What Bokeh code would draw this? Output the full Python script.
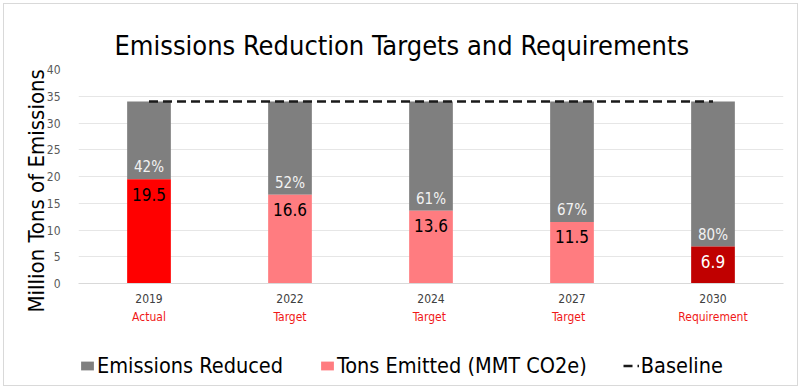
from bokeh.plotting import figure
from bokeh.models import (ColumnDataSource, CategoricalAxis, Legend, LegendItem,
                          FixedTicker, FactorRange, Title)
from bokeh.layouts import column
from bokeh.core.properties import value
from bokeh.embed import file_html
from bokeh.resources import INLINE

years = ["2019", "2022", "2024", "2027", "2030"]
sublabels = ["Actual", "Target", "Target ", "Target  ", "Requirement"]
emitted = [19.5, 16.6, 13.6, 11.5, 6.9]
baseline = [34.0, 34.0, 34.0, 34.0, 34.0]
reduced_pct = ["42%", "52%", "61%", "67%", "80%"]
emitted_colors = ["#FF0000", "#FF7C80", "#FF7C80", "#FF7C80", "#C00000"]
emitted_text_colors = ["#000000", "#000000", "#000000", "#000000", "#FFFFFF"]
emitted_labels = ["19.5", "16.6", "13.6", "11.5", "6.9"]

FONT = "DejaVu Sans Condensed"
GRAY = "#7F7F7F"
SALMON = "#FF7C80"

src = ColumnDataSource(dict(
    x=years, emitted=emitted, top=baseline, zero=[0] * 5,
    ecolor=emitted_colors, tcolor=emitted_text_colors,
    elab=emitted_labels, pct=reduced_pct,
))

p = figure(x_range=FactorRange(factors=years), y_range=(0, 40), width=793, height=322,
           output_backend="svg", toolbar_location=None,
           min_border_left=74, min_border_right=14, min_border_top=65,
           min_border_bottom=42)
p.extra_x_ranges = {"sub": FactorRange(factors=sublabels)}
p.outline_line_color = None
p.background_fill_color = "white"

# title
p.title.text = "Emissions Reduction Targets and Requirements"
p.title.text_font = FONT
p.title.text_font_size = "27px"
p.title.text_font_style = "normal"
p.title.text_color = "#000000"
p.title.align = "left"
p.title.offset = 36
p.title.standoff = 18

W = 0.31
p.vbar(x="x", bottom="emitted", top="top", width=W, source=src,
       fill_color=GRAY, line_color=None)
p.vbar(x="x", bottom="zero", top="emitted", width=W, source=src,
       fill_color="ecolor", line_color=None)
p.line(x=years, y=baseline, line_color="#1A1A1A", line_width=2.5, line_dash="9 5")

p.text(x="x", y="emitted", text="pct", source=src, text_font=value(FONT),
       text_font_size="15px", text_color="#F2F2F2", text_align="center",
       text_baseline="middle", y_offset=-12)
p.text(x="x", y="emitted", text="elab", source=src, text_font=value(FONT),
       text_font_size="17px", text_color="tcolor", text_align="center",
       text_baseline="middle", y_offset=15)

# axes
p.yaxis.ticker = FixedTicker(ticks=[0, 5, 10, 15, 20, 25, 30, 35, 40])
p.yaxis.axis_line_color = None
p.yaxis.major_tick_line_color = None
p.yaxis.minor_tick_line_color = None
p.yaxis.major_label_text_font = FONT
p.yaxis.major_label_text_font_size = "12px"
p.yaxis.major_label_text_color = "#595959"
p.yaxis.major_label_standoff = 12

ylab = Title(text="Million Tons of Emissions", align="left", offset=-29,
             text_font=FONT, text_font_size="22px", text_font_style="normal",
             text_color="#000000", standoff=-11)
p.add_layout(ylab, "left")

p.xaxis.axis_line_color = "#D9D9D9"
p.xaxis.major_tick_line_color = None
p.xaxis.major_label_text_font = FONT
p.xaxis.major_label_text_font_size = "12px"
p.xaxis.major_label_text_color = "#404040"
p.xaxis.major_label_standoff = 4

ax2 = CategoricalAxis(x_range_name="sub", axis_line_color=None, major_tick_line_color=None,
                      major_label_text_font=FONT, major_label_text_font_size="12px",
                      major_label_text_color="#F01818", major_label_standoff=-2)
p.add_layout(ax2, "below")

p.xgrid.grid_line_color = None
p.ygrid.grid_line_color = "#E6E6E6"
p.ygrid.grid_line_width = 1

# legend strip
q = figure(width=793, height=59, x_range=(0, 1), y_range=(0, 1),
           x_axis_location=None, y_axis_location=None,
           output_backend="svg", toolbar_location=None, min_border=0)
q.grid.visible = False
q.outline_line_color = None
l_red = q.vbar(x=[-10], top=[-10], width=0.1, fill_color=GRAY, line_color=None)
l_emit = q.vbar(x=[-10], top=[-10], width=0.1, fill_color=SALMON, line_color=None)
l_base = q.line(x=[-10, -9], y=[-10, -10], line_color="#1A1A1A", line_width=2.5,
                line_dash="9 5")

legend = Legend(items=[
    LegendItem(label="Emissions Reduced", renderers=[l_red]),
    LegendItem(label="Tons Emitted (MMT CO2e)", renderers=[l_emit]),
    LegendItem(label="Baseline", renderers=[l_base]),
], orientation="horizontal", location=(1, 7),
    label_text_font=FONT, label_text_font_size="21.5px", label_text_color="#000000",
    glyph_width=16, glyph_height=11, label_standoff=2, spacing=36,
    border_line_color=None, background_fill_alpha=0, margin=0, padding=0,
    click_policy="none")
q.add_layout(legend, "center")

lay = column(p, q, spacing=0,
             styles={"border": "1px solid #D9D9D9", "margin-left": "3px", "margin-top": "3px"})

open("out.html", "w").write(file_html(lay, INLINE))
